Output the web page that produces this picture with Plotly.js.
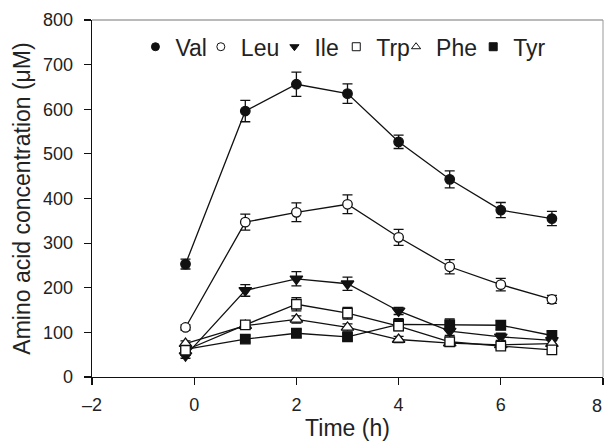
<!DOCTYPE html>
<html>
<head>
<meta charset="utf-8">
<script src="https://cdn.plot.ly/plotly-3.0.1.min.js"></script>
<style>html,body{margin:0;padding:0;background:#fff;}#chart{width:606px;height:441px;}</style>
</head>
<body>
<div id="chart"></div>
<script>
const timeH = [-0.17, 1, 2, 3, 4, 5, 6, 7];
const seriesNames = ["Val", "Leu", "Ile", "Trp", "Phe", "Tyr"];
const valMean = [253, 596, 656, 635, 527, 443, 374, 355];
const valErr  = [11, 24, 27, 22, 15, 19, 17, 16];
const leuMean = [111, 347, 369, 387, 313, 247, 207, 174];
const leuErr  = [6, 18, 21, 21, 18, 16, 14, 9];
const ileMean = [48, 194, 220, 209, 148, 103, 90, 82];
const ileErr  = [6, 13, 16, 15, 8, 10, 8, 8];
const trpMean = [60, 117, 163, 143, 114, 79, 69, 61];
const trpErr  = [6, 8, 15, 13, 10, 8, 7, 8];
const pheMean = [75, 115, 129, 111, 84, 76, 72, 75];
const pheErr  = [6, 8, 8, 8, 7, 6, 6, 6];
const tyrMean = [62, 85, 98, 90, 118, 117, 116, 93];
const tyrErr  = [5, 7, 8, 8, 13, 13, 10, 10];
const xTicks = [-2, 0, 2, 4, 6, 8];
const xTickText = ["\u20132", "0", "2", "4", "6", ""];
const xLastTick = 8;
const xLastTickText = "8";
const yTicks = [0, 100, 200, 300, 400, 500, 600, 700, 800];

const styles = {
  Val: {symbol: "circle", fill: "#111", size: 9.5},
  Leu: {symbol: "circle", fill: "#fff", size: 9.5},
  Ile: {symbol: "triangle-down", fill: "#111", size: 11},
  Trp: {symbol: "square", fill: "#fff", size: 9.5},
  Phe: {symbol: "triangle-up", fill: "#fff", size: 11},
  Tyr: {symbol: "square", fill: "#111", size: 9.5}
};
const data = {
  Val: [valMean, valErr], Leu: [leuMean, leuErr], Ile: [ileMean, ileErr],
  Trp: [trpMean, trpErr], Phe: [pheMean, pheErr], Tyr: [tyrMean, tyrErr]
};
const drawOrder = ["Val", "Leu", "Ile", "Tyr", "Phe", "Trp"];
const traces = [];
drawOrder.forEach(n => {
  const s = styles[n];
  traces.push({
    x: timeH, y: data[n][0], type: "scatter", mode: "lines+markers",
    name: n, showlegend: false,
    line: {color: "#111", width: 1.3},
    marker: {symbol: s.symbol, size: s.size, color: s.fill, line: {color: "#111", width: 1.3}},
    error_y: {type: "data", array: data[n][1], visible: true, color: "#111", thickness: 1.3, width: 5}
  });
});
// one legend per entry, so each entry can sit where the reference puts it
const legendX = [0.085, 0.213, 0.357, 0.478, 0.595, 0.746];
const layout = {
  width: 606, height: 441,
  margin: {l: 92, r: 3, t: 20, b: 64},
  paper_bgcolor: "#fff", plot_bgcolor: "#fff",
  font: {family: "Liberation Sans, Arial, sans-serif", color: "#222", size: 18},
  showlegend: true,
  xaxis: {
    range: [-2, 8], tickvals: xTicks, ticktext: xTickText,
    ticks: "outside", ticklen: 7, tickwidth: 1.2, tickcolor: "#111", ticklabelstandoff: 4,
    showline: true, linecolor: "#111", linewidth: 1.3, mirror: false,
    showgrid: false, zeroline: false,
    tickfont: {size: 18, color: "#222"},
    title: {text: "Time (h)", font: {size: 23, color: "#222"}, standoff: 8}
  },
  yaxis: {
    range: [0, 800], tickvals: yTicks,
    ticks: "outside", ticklen: 7, tickwidth: 1.2, tickcolor: "#111", ticklabelstandoff: 7,
    ticklabeloverflow: "allow",
    showline: true, linecolor: "#111", linewidth: 1.3, mirror: false,
    showgrid: false, zeroline: false,
    tickfont: {size: 18, color: "#222"},
    title: {text: "Amino acid concentration (\u03bcM)", font: {size: 23, color: "#222"}, standoff: 6}
  },
  annotations: [
    {x: xLastTick, xref: "x", y: 0, yref: "paper", text: xLastTickText, showarrow: false,
     xanchor: "right", yanchor: "top", yshift: -17, xshift: 1, font: {size: 18, color: "#222"}}
  ],
  shapes: [
    {type: "line", xref: "paper", yref: "paper", x0: 0, x1: 1, y0: 1, y1: 1, line: {color: "#777", width: 1.2}},
    {type: "line", xref: "paper", yref: "paper", x0: 1, x1: 1, y0: 0, y1: 1, line: {color: "#999", width: 1}}
  ]
};
seriesNames.forEach((n, i) => {
  const s = styles[n];
  const key = i === 0 ? "legend" : "legend" + (i + 1);
  traces.push({
    x: [null], y: [null], type: "scatter", mode: "markers", name: n, showlegend: true,
    legend: key,
    marker: {symbol: s.symbol, size: 8, color: s.fill, line: {color: "#111", width: 1}}
  });
  layout[key] = {
    x: legendX[i], y: 0.925, xanchor: "left", yanchor: "middle",
    font: {size: 23, color: "#222"}, bgcolor: "rgba(0,0,0,0)", borderwidth: 0, itemwidth: 30
  };
});
Plotly.newPlot("chart", traces, layout, {displayModeBar: false, staticPlot: true});
</script>
</body>
</html>
